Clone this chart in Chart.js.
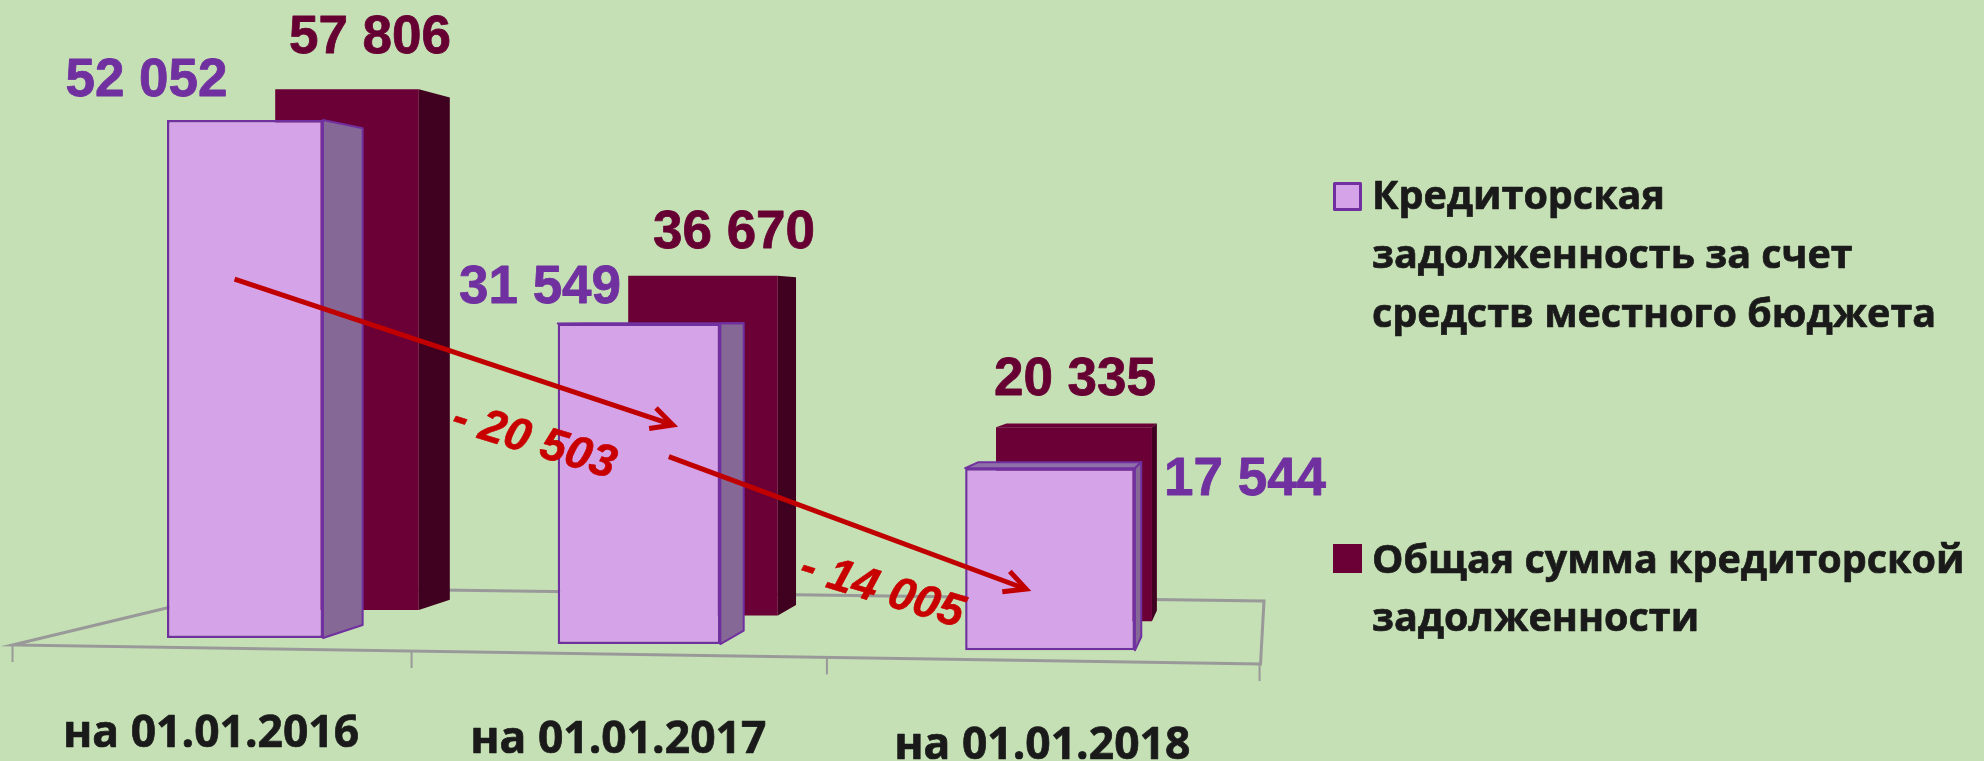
<!DOCTYPE html>
<html lang="ru">
<head>
<meta charset="utf-8">
<title>Кредиторская задолженность</title>
<script src="https://cdn.jsdelivr.net/npm/chart.js@4/dist/chart.umd.min.js"></script>
<style>
html,body{margin:0;padding:0;background:#C5E0B4;overflow:hidden}
canvas{display:block}
</style>
</head>
<body>
<canvas id="c" width="1984" height="761"></canvas>
<script>
// ---- data ----
const categories = ["на 01.01.2016", "на 01.01.2017", "на 01.01.2018"];
const localBudgetDebt = [52052, 31549, 17544];
const totalDebt = [57806, 36670, 20335];
const seriesNames = ["Кредиторская задолженность за счет средств местного бюджета",
                     "Общая сумма кредиторской задолженности"];
const changeLabels = ["- 20 503", "- 14 005"];
// arrows between the years: category position and value level at each end
const arrowFromCat = [-0.027, 1.074];
const arrowFromVal = [36080, 18460];
const arrowToCat   = [1.084, 1.943];
const arrowToVal   = [21570, 5880];

// ---- layout and style ----
const W = 1984, H = 761;
const BG = "#C5E0B4";
// one-point perspective of the 3-D chart: a plane for each row of bars
const planes = [
  {a:380.8, b:245, g:-0.02068, c:-7.3,  h:-0.02068, zero:638, k:0.00995, w:156,   depth:0.041},
  {a:341.8, b:347, g:-0.0202,  c:-11.6, h:-0.0278,  zero:610, k:0.00901, w:143.6, depth:0.0356}
];
const vanish = {x:1290, y:320};
const styles = [
  {face:"#D5A3E8", edge:"#7030A0", side:"#856895", top:"#8F70A8", text:"#7030A0"},
  {face:"#6A0035", edge:"#6A0035", side:"#40001F", top:"#6A0035", text:"#660033"}
];
const labelDx = [[-98.5,-99,195],[23,31,1]];
const labelDy = [[-24,-20,27],[-36,-28,-32]];
const changePos = [{x:534,y:442},{x:882,y:591}];
const floorPts = {a:[12.5,645], b:[252,587.5], c:[1264,601], d:[1260.5,664]};
const tickMap = {a:391, b:12.5, g:-0.0196, len:17};
const legendBoxes = [{x:1333,y:182,base:209,step:59},{x:1333,y:544,base:573,step:58}];

const VALUE_FONT = "bold 53px 'Liberation Sans'";
const CHANGE_FONT = "italic bold 46px 'Liberation Sans'";
const TEXT_FONT = "bold 44.4px 'Open Sans'";
const LEGEND_FONT = "bold 39.5px 'Open Sans'";

function project(p, cat, value){
  const dx = 1 + p.g*cat, dy = 1 + p.h*cat;
  return {x:(p.a*cat + p.b)/dx, y:(p.c*cat + p.zero - p.k*value)/dy};
}
function fmt(v){ return String(v).replace(/\B(?=(\d{3})+$)/g," "); }
function floorEdgeY(x){
  const [x0,y0]=floorPts.a,[x1,y1]=floorPts.d;
  return y0+(y1-y0)*(x-x0)/(x1-x0);
}
function tickX(t){ return (tickMap.a*t+tickMap.b)/(1+tickMap.g*t); }
function poly(ctx,pts,fill,stroke,lw){
  ctx.beginPath();
  pts.forEach((q,i)=> i?ctx.lineTo(q[0],q[1]):ctx.moveTo(q[0],q[1]));
  ctx.closePath();
  ctx.fillStyle=fill; ctx.fill();
  if(stroke){ctx.strokeStyle=stroke;ctx.lineWidth=lw;ctx.lineJoin="round";ctx.stroke();}
}
function heavyText(ctx,t,x,y,color,weight){
  ctx.fillStyle=color;ctx.strokeStyle=color;ctx.lineWidth=weight;ctx.lineJoin="round";
  ctx.strokeText(t,x,y);ctx.fillText(t,x,y);
}

const perspective = {
  id:"perspective",
  // move each bar the library laid out onto its perspective plane
  afterDatasetsUpdate(chart){
    chart.data.datasets.forEach((ds,di)=>{
      const meta = chart.getDatasetMeta(di), p = planes[di], ys = chart.scales[ds.yAxisID];
      meta.data.forEach((el,i)=>{
        const dx = 1+p.g*i, dy = 1+p.h*i;
        const zero = ys.getPixelForValue(0), top = ys.getPixelForValue(ds.data[i]);
        el.x = (p.a*i+p.b)/dx;
        el.width = p.w/(dx*dx);
        el.base = (p.c*i+zero)/dy;
        el.y = el.base-(zero-top)/dy;
        el.height = el.base-el.y;
      });
    });
  },
  beforeDraw(chart){
    const ctx=chart.ctx;
    ctx.save();ctx.fillStyle=BG;ctx.fillRect(0,0,W,H);
    // floor
    const {a,b,c,d}=floorPts;
    ctx.strokeStyle="#999999";ctx.lineWidth=3;ctx.lineJoin="miter";
    ctx.beginPath();ctx.moveTo(a[0],a[1]);ctx.lineTo(b[0],b[1]);ctx.lineTo(c[0],c[1]);ctx.lineTo(d[0],d[1]);ctx.closePath();ctx.stroke();
    ctx.lineWidth=2;
    for(let t=0;t<=categories.length;t++){
      const x=tickX(t),y=floorEdgeY(x);
      ctx.beginPath();ctx.moveTo(x,y);ctx.lineTo(x,y+tickMap.len);ctx.stroke();
    }
    ctx.restore();
  },
  // side and top faces go in under the front face of the bar
  beforeDatasetDraw(chart,args){
    const di=args.index,p=planes[di],s=styles[di],ctx=chart.ctx;
    ctx.save();
    chart.getDatasetMeta(di).data.forEach(el=>{
      const L=el.x-el.width/2,R=el.x+el.width/2,T=el.y,B=el.base;
      const off=(x,y)=>[x+(vanish.x-x)*p.depth,y+(vanish.y-y)*p.depth];
      const stroke=di===0?s.edge:null;
      if(off(R,T)[1]<T) poly(ctx,[[L,T],[R,T],off(R,T),off(L,T)],s.top,stroke,2);
      poly(ctx,[[R,T],off(R,T),off(R,B),[R,B]],s.side,stroke,2);
    });
    ctx.restore();
  },
  afterDatasetsDraw(chart){
    const ctx=chart.ctx;
    ctx.save();
    // value labels
    ctx.font=VALUE_FONT;ctx.textAlign="center";ctx.textBaseline="alphabetic";
    chart.data.datasets.forEach((ds,di)=>{
      chart.getDatasetMeta(di).data.forEach((el,i)=>{
        heavyText(ctx,fmt(ds.data[i]),el.x+labelDx[di][i],el.y+labelDy[di][i],styles[di].text,0.8);
      });
    });
    // arrows
    ctx.strokeStyle="#C00000";ctx.lineWidth=5;ctx.lineCap="butt";ctx.lineJoin="miter";
    arrowFromCat.forEach((_,i)=>{
      const s=project(planes[0],arrowFromCat[i],arrowFromVal[i]);
      const e=project(planes[0],arrowToCat[i],arrowToVal[i]);
      const ang=Math.atan2(e.y-s.y,e.x-s.x),len=24,sp=0.47;
      ctx.beginPath();ctx.moveTo(s.x,s.y);ctx.lineTo(e.x-3,e.y-1);ctx.stroke();
      ctx.beginPath();
      ctx.moveTo(e.x-len*Math.cos(ang-sp),e.y-len*Math.sin(ang-sp));
      ctx.lineTo(e.x,e.y);
      ctx.lineTo(e.x-len*Math.cos(ang+sp),e.y-len*Math.sin(ang+sp));
      ctx.stroke();
    });
    // change labels
    ctx.font=CHANGE_FONT;ctx.textBaseline="middle";
    changeLabels.forEach((t,i)=>{
      ctx.save();ctx.translate(changePos[i].x,changePos[i].y);ctx.rotate(17*Math.PI/180);
      heavyText(ctx,t,0,0,"#C80000",0.6);ctx.restore();
    });
    // category labels
    ctx.textBaseline="alphabetic";ctx.font=TEXT_FONT;
    chart.scales.x.getLabels().forEach((t,i)=>{
      const x=(tickX(i)+tickX(i+1))/2;
      heavyText(ctx,t,x-1,floorEdgeY(x)+98.5,"#1A1A1A",0.7);
    });
    // legend
    ctx.textAlign="left";ctx.font=LEGEND_FONT;
    chart.data.datasets.forEach((ds,di)=>{
      const b=legendBoxes[di],st=styles[di];
      if(di===0){poly(ctx,[[b.x+1.5,b.y+1.5],[b.x+27.5,b.y+1.5],[b.x+27.5,b.y+27.5],[b.x+1.5,b.y+27.5]],st.face,st.edge,3);}
      else{ctx.fillStyle=st.face;ctx.fillRect(b.x,b.y,29,29);}
      const lines=[];let cur="";
      ds.label.split(" ").forEach(w=>{
        const t=cur?cur+" "+w:w;
        if(ctx.measureText(t).width>600&&cur){lines.push(cur);cur=w;}else cur=t;
      });
      lines.push(cur);
      lines.forEach((l,i)=>heavyText(ctx,l,1372,b.base+i*b.step,"#1A1A1A",0.7));
    });
    ctx.restore();
  }
};

function axisRange(p){ return {min:-(H-p.zero)/p.k, max:p.zero/p.k}; }

new Chart(document.getElementById("c"),{
  type:"bar",
  data:{
    labels:categories,
    datasets:[
      {label:seriesNames[0],data:localBudgetDebt,yAxisID:"y",backgroundColor:styles[0].face,borderColor:styles[0].edge,borderWidth:2.5,borderSkipped:false,grouped:false},
      {label:seriesNames[1],data:totalDebt,yAxisID:"y2",backgroundColor:styles[1].face,borderWidth:0,grouped:false}
    ]
  },
  options:{
    responsive:false,animation:false,
    layout:{padding:0},
    plugins:{legend:{display:false},tooltip:{enabled:false},title:{display:false}},
    scales:{
      x:{display:false,offset:true,grid:{display:false}},
      y:{display:false,...axisRange(planes[0]),grid:{display:false}},
      y2:{display:false,...axisRange(planes[1]),grid:{display:false}}
    }
  },
  plugins:[perspective]
});
</script>
</body>
</html>
